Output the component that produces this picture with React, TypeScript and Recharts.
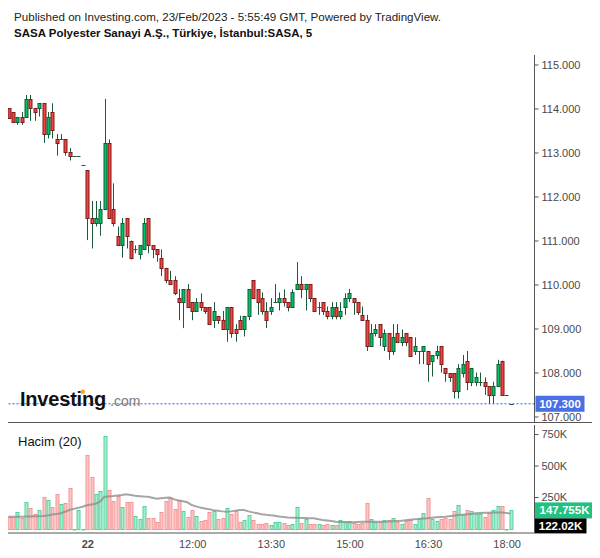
import React from 'react';
import { ComposedChart, Bar, Line, XAxis, YAxis, ReferenceLine } from 'recharts';

// ---- data ----
const opens = [
  114.02, 113.93, 113.71, 113.81, 113.81, 114.22, 114.02, 114.02, 114.13, 113.43,
  113.93, 113.31, 113.31, 113.31, 113.02, 112.93, 112.93, 112.72, 112.61, 111.52,
  111.40, 111.40, 111.72, 113.22, 111.72, 111.11, 110.90, 111.52, 111.01, 110.81,
  110.70, 110.81, 111.52, 110.90, 110.81, 110.61, 110.39, 110.11, 110.11, 109.70,
  109.61, 109.90, 109.61, 109.41, 109.61, 109.49, 109.49, 109.20, 109.30, 109.20,
  108.99, 109.49, 108.99, 109.20, 108.99, 109.30, 110.11, 109.90, 109.70, 109.40,
  109.40, 109.61, 109.61, 109.70, 109.61, 109.49, 109.90, 110.02, 109.90, 110.02,
  109.70, 109.49, 109.61, 109.40, 109.30, 109.49, 109.30, 109.49, 109.70, 109.70,
  109.61, 109.32, 109.20, 108.61, 108.90, 109.11, 108.61, 108.90, 108.50, 108.90,
  108.70, 108.90, 108.81, 108.50, 108.50, 108.50, 108.50, 108.28, 108.41, 108.61,
  108.11, 107.99, 107.99, 107.60, 107.99, 108.28, 107.79, 107.79, 107.79, 107.79,
  107.70, 107.50, 107.70, 108.28, 107.50, 107.30,
];
const highs = [
  114.02, 113.93, 113.81, 113.93, 114.32, 114.32, 114.02, 114.13, 114.13, 113.93,
  114.13, 113.43, 113.43, 113.31, 113.11, 112.93, 112.93, 112.72, 112.61, 111.91,
  111.91, 111.91, 114.23, 113.31, 112.31, 111.33, 111.52, 111.52, 111.01, 110.90,
  110.90, 111.52, 111.52, 110.90, 110.81, 110.81, 110.39, 110.32, 110.20, 109.91,
  109.90, 110.02, 109.61, 109.70, 109.81, 109.49, 109.49, 109.61, 109.30, 109.41,
  109.49, 109.49, 109.11, 109.30, 109.30, 109.90, 110.11, 109.90, 109.83, 109.61,
  109.70, 110.02, 109.83, 109.90, 109.61, 109.90, 110.52, 110.20, 110.02, 110.02,
  109.70, 109.61, 109.61, 109.51, 109.61, 109.61, 109.61, 109.81, 109.91, 109.70,
  109.61, 109.51, 109.32, 109.11, 109.11, 109.11, 108.99, 108.90, 109.11, 109.11,
  108.99, 108.90, 108.81, 108.81, 108.50, 108.61, 108.50, 108.41, 108.62, 108.61,
  108.11, 107.99, 107.99, 108.20, 108.41, 108.50, 108.11, 108.01, 108.01, 107.90,
  107.70, 107.80, 108.30, 108.28, 107.50, 107.30,
];
const lows = [
  113.79, 113.71, 113.64, 113.64, 113.81, 113.73, 113.73, 113.83, 113.23, 113.33,
  113.33, 112.94, 113.31, 112.94, 112.83, 112.93, 112.93, 112.72, 111.02, 110.83,
  111.33, 111.12, 111.72, 111.52, 111.33, 110.90, 110.62, 110.83, 110.58, 110.72,
  110.58, 110.81, 110.72, 110.61, 110.53, 110.20, 110.04, 110.02, 109.77, 109.20,
  109.02, 109.49, 109.20, 109.41, 109.41, 109.34, 109.11, 109.02, 109.11, 108.99,
  108.71, 108.80, 108.71, 108.99, 108.83, 109.20, 109.70, 109.32, 109.33, 109.02,
  109.32, 109.61, 109.42, 109.51, 109.40, 109.49, 109.90, 109.70, 109.42, 109.61,
  109.40, 109.32, 109.32, 109.22, 109.22, 109.22, 109.22, 109.32, 109.61, 109.32,
  109.32, 109.20, 108.50, 108.61, 108.83, 108.61, 108.50, 108.30, 108.41, 108.70,
  108.61, 108.61, 108.39, 108.41, 108.20, 108.20, 107.80, 107.92, 108.31, 108.01,
  107.80, 107.80, 107.42, 107.42, 107.90, 107.61, 107.70, 107.70, 107.70, 107.50,
  107.30, 107.30, 107.70, 107.50, 107.50, 107.30,
];
const closes = [
  113.79, 113.71, 113.81, 113.71, 114.22, 114.02, 113.93, 114.13, 113.43, 113.81,
  113.52, 113.22, 113.31, 113.02, 112.93, 112.93, 112.93, 112.72, 111.52, 111.40,
  111.52, 111.72, 113.22, 111.52, 111.40, 110.90, 111.40, 111.11, 110.61, 110.81,
  110.90, 111.40, 110.90, 110.81, 110.70, 110.39, 110.11, 110.02, 109.81, 109.61,
  109.90, 109.49, 109.41, 109.61, 109.49, 109.41, 109.11, 109.41, 109.20, 108.99,
  109.49, 108.90, 108.90, 108.99, 109.30, 109.90, 109.70, 109.61, 109.40, 109.20,
  109.49, 109.61, 109.70, 109.61, 109.49, 109.83, 110.02, 109.90, 110.02, 109.70,
  109.40, 109.49, 109.40, 109.30, 109.49, 109.30, 109.40, 109.70, 109.81, 109.61,
  109.39, 109.20, 108.61, 108.90, 108.99, 108.81, 108.90, 108.50, 108.81, 108.70,
  108.81, 108.70, 108.39, 108.61, 108.50, 108.61, 108.20, 108.41, 108.50, 108.20,
  107.99, 107.90, 107.60, 108.11, 108.20, 107.79, 108.11, 107.90, 107.79, 107.70,
  107.50, 107.70, 108.20, 107.50, 107.50, 107.30,
];
// volume in thousands
const volumes = [
  98, 98, 132, 90, 212, 164, 116, 151, 254, 228,
  175, 275, 196, 204, 328, 4, 151, 3, 588, 415,
  275, 302, 738, 307, 222, 259, 175, 212, 217, 103,
  79, 183, 85, 85, 58, 132, 222, 249, 159, 228,
  143, 95, 148, 103, 64, 71, 132, 143, 77, 85,
  164, 116, 143, 58, 69, 111, 69, 42, 37, 50,
  32, 53, 53, 45, 32, 40, 175, 45, 79, 37,
  37, 40, 32, 40, 32, 32, 69, 53, 60, 45,
  42, 48, 204, 77, 53, 53, 74, 74, 90, 53,
  42, 64, 69, 42, 90, 124, 243, 79, 64, 79,
  90, 79, 143, 191, 111, 151, 143, 122, 122, 98,
  124, 148, 185, 185, 3, 147.755,
];
// Hacim (20) moving-average line, in thousands
const volumeMA = [
  98, 98, 98, 98, 99, 100, 101, 102, 103, 108,
  115, 120, 125, 137, 151, 160, 168, 177, 188, 195,
  201, 217, 256, 259, 262, 266, 270, 275, 270, 264,
  261, 258, 256, 248, 240, 245, 248, 250, 235, 226,
  220, 212, 190, 180, 170, 163, 156, 150, 145, 140,
  137, 140, 146, 150, 151, 140, 132, 125, 118, 113,
  109, 106, 100, 96, 92, 90, 89, 88, 87, 86,
  85, 78, 71, 67, 63, 58, 56, 55, 54, 53,
  55, 57, 58, 58, 58, 58, 58, 60, 61, 64,
  66, 70, 74, 78, 80, 83, 85, 90, 93, 96,
  98, 102, 105, 111, 114, 117, 120, 125, 127, 129,
  130, 131, 132, 132, 128, 122.02,
];
const priceTicks = [107, 108, 109, 110, 111, 112, 113, 114, 115];
const volumeTicks = [250, 500, 750];
const timeTickIndex = [18, 42, 60, 78, 96, 114];
const timeTickLabels = ['22', '12:00', '13:30', '15:00', '16:30', '18:00'];
const lastPrice = 107.3;
const lastVolume = 147.755;
const lastMA = 122.02;
const emptySlots = 5;

// ---- built table ----
const data = Array.from({ length: opens.length + emptySlots }, (_, i) => {
  if (i >= opens.length) return { i };
  const h = highs[i];
  const l = lows[i];
  return {
    i,
    open: opens[i],
    high: h,
    low: l,
    close: closes[i],
    range: [l, h > l ? h : h + 0.0001],
    vol: volumes[i],
    ma: volumeMA[i],
  };
});

const FONT = '"Liberation Sans", Arial, Helvetica, sans-serif';
const W = 600;
const H = 558;
const LEFT = 6.1;
const AXIS_W = 65.5;

const UP_FILL = '#00c16a';
const UP_EDGE = '#115c34';
const DN_FILL = '#f0453f';
const DN_EDGE = '#7d1b1b';
const WICK = '#1d5a3a';

const Candle = (props: any) => {
  const { x, y, width, height, payload } = props;
  if (!payload || payload.open == null) return null;
  const { open, close, high, low } = payload;
  const top = Math.min(y, y + height);
  const h = Math.abs(height);
  const cx = Math.round(x + width / 2) + 0.5;
  const span = high - low;
  const py = (v: number) => (span > 0 ? top + ((high - v) / span) * h : top);
  const up = close >= open;
  const yO = py(open);
  const yC = py(close);
  const bt = Math.min(yO, yC);
  const bb = Math.max(yO, yC);
  return (
    <g>
      {span > 0 && (
        <line x1={cx} x2={cx} y1={top} y2={top + h} stroke={WICK} strokeWidth={1} />
      )}
      {bb - bt < 1.2 ? (
        <line x1={cx - 2} x2={cx + 2} y1={Math.round(bt) + 0.5} y2={Math.round(bt) + 0.5} stroke={up ? WICK : DN_EDGE} strokeWidth={1} />
      ) : (
        <rect
          x={cx - 1.5}
          y={Math.round(bt) + 0.5}
          width={3}
          height={Math.max(1, Math.round(bb) - Math.round(bt))}
          fill={up ? UP_FILL : DN_FILL}
          stroke={up ? UP_EDGE : DN_EDGE}
          strokeWidth={1}
        />
      )}
    </g>
  );
};

const VolBar = (props: any) => {
  const { x, y, width, height, payload } = props;
  if (!payload || payload.vol == null) return null;
  const up = payload.close >= payload.open;
  const cx = Math.round(x + width / 2) + 0.5;
  const top = Math.round(Math.min(y, y + height)) + 0.5;
  const bottom = Math.round(Math.max(y, y + height)) + 0.5;
  return (
    <rect
      x={cx - 1.5}
      y={top}
      width={3}
      height={Math.max(0.5, bottom - top)}
      fill={up ? '#a8ecd0' : '#fcc6c6'}
      stroke={up ? '#52d39c' : '#f59393'}
      strokeWidth={1}
    />
  );
};

const PriceTag = (props: any) => {
  const vb = props.viewBox || {};
  const x = (vb.x || 0) + (vb.width || 0) + 1;
  const y = vb.y || 0;
  return (
    <g>
      <rect x={x} y={y - 8} width={49} height={16} fill="#4a6fe3" />
      <text x={x + 24.5} y={y + 4} textAnchor="middle" fill="#fff" fontSize={11.5} fontWeight="bold" fontFamily={FONT}>
        {lastPrice.toFixed(3)}
      </text>
    </g>
  );
};

const VolTags = (props: any) => {
  const vb = props.viewBox || {};
  const x = (vb.x || 0) + (vb.width || 0);
  const y = vb.y || 0;
  return (
    <g>
      <rect x={x} y={y - 8} width={59} height={16} fill="#1fc37f" />
      <text x={x + 30} y={y + 4} textAnchor="middle" fill="#fff" fontSize={11.5} fontWeight="bold" fontFamily={FONT}>
        {lastVolume.toFixed(3)}K
      </text>
      <rect x={x} y={y + 8} width={52} height={15} fill="#000" />
      <text x={x + 26} y={y + 19.5} textAnchor="middle" fill="#fff" fontSize={11.5} fontWeight="bold" fontFamily={FONT}>
        {lastMA.toFixed(2)}K
      </text>
    </g>
  );
};

const TimeTick = (props: any) => {
  const { x, y, payload } = props;
  const k = timeTickIndex.indexOf(payload.value);
  if (k < 0) return null;
  const label = timeTickLabels[k];
  return (
    <text x={x + 1} y={y + 10} textAnchor="middle" fill="#4a4a4a" fontSize={11} fontFamily={FONT} fontWeight={label === '22' ? 'bold' : 'normal'}>
      {label}
    </text>
  );
};

export default function App() {
  return (
    <div style={{ position: 'relative', width: W, height: H, margin: -8, background: '#fff', overflow: 'hidden', fontFamily: FONT }}>
      <svg width={W} height={H} style={{ position: 'absolute', left: 0, top: 0 }}>
        <text x={14} y={20.5} fontSize={11.6} fill="#222" fontFamily={FONT}>
          Published on Investing.com, 23/Feb/2023 - 5:55:49 GMT, Powered by TradingView.
        </text>
        <text x={14} y={37} fontSize={11.5} fontWeight="bold" fill="#111" fontFamily={FONT}>
          SASA Polyester Sanayi A.Ş., Türkiye, İstanbul:SASA, 5
        </text>
        <text x={18} y={446} fontSize={13} fill="#111" fontFamily={FONT}>
          Hacim (20)
        </text>
      </svg>

      <div style={{ position: 'absolute', left: 0, top: 0 }}>
        <ComposedChart width={W} height={H} data={data} margin={{ top: 55, right: 0, bottom: 136, left: LEFT }}>
          <XAxis dataKey="i" type="category" hide />
          <YAxis
            orientation="right"
            width={AXIS_W}
            domain={[106.886, 115.227]}
            allowDataOverflow
            ticks={priceTicks}
            tickFormatter={(v: number) => v.toFixed(3)}
            tick={{ fill: '#4a4a4a', fontSize: 11, fontFamily: FONT }}
            tickSize={4}
            tickMargin={3}
            axisLine={{ stroke: '#555' }}
            tickLine={{ stroke: '#555' }}
          />
          <ReferenceLine y={lastPrice} stroke="#2f5ff0" strokeDasharray="2 2" strokeWidth={1} label={<PriceTag />} />
          <Bar dataKey="range" shape={<Candle />} barSize={3} isAnimationActive={false} />
        </ComposedChart>
      </div>

      <svg width={W} height={H} style={{ position: 'absolute', left: 0, top: 0 }}>
        <g>
          <text x={20} y={406} fontSize={20} fontWeight="bold" fill="#111" fontFamily={FONT} letterSpacing={-0.2}>
            Investing
          </text>
          <text x={110} y={406} fontSize={14} fill="#7a7a7a" fontFamily={FONT}>
            .com
          </text>
          <circle cx={82.8} cy={391.8} r={2.3} fill="#f5a623" />
        </g>
        <line x1={0} x2={592} y1={422.5} y2={422.5} stroke="#555" strokeWidth={1} />
      </svg>

      <div style={{ position: 'absolute', left: 0, top: 0 }}>
        <ComposedChart width={W} height={H} data={data} margin={{ top: 425, right: 0, bottom: 0, left: LEFT }}>
          <XAxis
            dataKey="i"
            type="category"
            height={25}
            ticks={timeTickIndex}
            interval={0}
            tick={<TimeTick />}
            tickSize={3}
            axisLine={{ stroke: '#555' }}
            tickLine={false}
          />
          <YAxis
            orientation="right"
            width={AXIS_W}
            domain={[-31.7, 825.8]}
            allowDataOverflow
            ticks={volumeTicks}
            tickFormatter={(v: number) => `${v}K`}
            tick={{ fill: '#4a4a4a', fontSize: 11, fontFamily: FONT }}
            tickSize={4}
            tickMargin={3}
            axisLine={{ stroke: '#555' }}
            tickLine={{ stroke: '#555' }}
          />
          <Bar dataKey="vol" shape={<VolBar />} barSize={3} isAnimationActive={false} />
          <Line dataKey="ma" type="linear" stroke="#8f8f8f" strokeOpacity={0.8} strokeWidth={2} dot={false} isAnimationActive={false} />
          <ReferenceLine y={lastVolume} stroke="none" label={<VolTags />} />
        </ComposedChart>
      </div>
    </div>
  );
}
